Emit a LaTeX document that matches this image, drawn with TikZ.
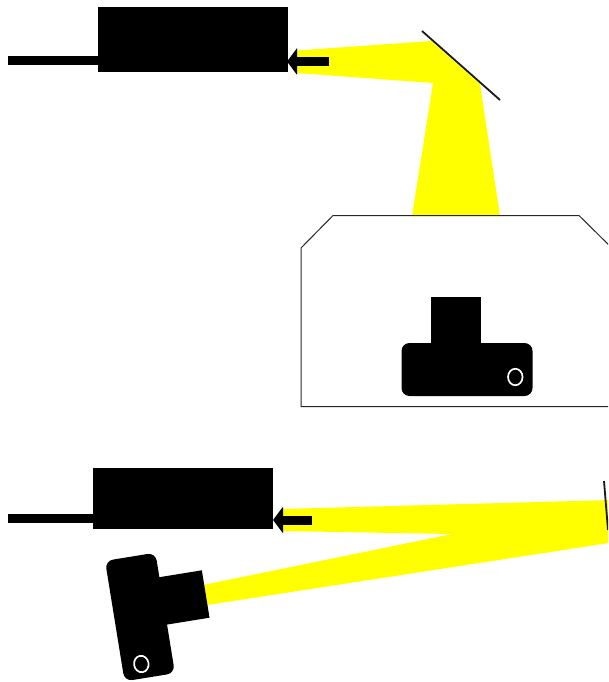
\documentclass[tikz,border=0pt]{standalone}
\usepackage{tikz}
\usetikzlibrary{arrows.meta,shapes.geometric}
\definecolor{beamyellow}{RGB}{255,255,0}

\begin{document}
\begin{tikzpicture}[
    x=1pt, y=-1pt,
    laser/.style={rectangle, fill=black, inner sep=0, outer sep=0, minimum width=#1},
    beam/.style={fill=beamyellow},
    fiber/.style={line width=9pt, color=black},
    inlet/.style={-{Triangle[length=10pt, width=26pt]}, line width=9pt, color=black},
    mirror/.style={line width=1.8pt, color=black!90},
    neck/.style={rectangle, fill=black, inner sep=0, outer sep=0},
    body/.style={rectangle, rounded corners=8pt, fill=black, inner sep=0, outer sep=0},
    lens/.style={ellipse, draw=white, line width=1.7pt, inner sep=0, outer sep=0, minimum width=14.5pt, minimum height=16.5pt}
]
\useasboundingbox (0, 0) rectangle (608, 682);
\clip (0, 0) rectangle (608, 682);

% Top beam path (laser, mirror, down into housing)
\fill[beam] (297, 50.5) -- (431, 41) -- (480, 84) -- (500, 216) -- (412, 216) -- (433, 83) -- (297, 73) -- cycle;
\draw[mirror] (422, 31) -- (500, 100);

% Top laser
\node[laser=190pt, minimum height=65pt] (lasertop) at (193, 39.5) {};
\coordinate (fibertop) at (8, 60.5);
\coordinate (inlettop) at (329, 61.5);
\draw[fiber] (fibertop) -- (lasertop.west |- fibertop);
\draw[inlet] (inlettop) -- ([xshift=-1pt]lasertop.east |- inlettop);

% Housing (right side runs off the page)
\draw[line width=1pt, color=black!85] (620, 406.5) -- (301, 406.5) -- (301, 248) -- (333, 215.5) -- (579, 215.5) -- (620, 256);

% Camera inside housing
\node[neck, minimum width=50pt, minimum height=50pt] (necktop) at (456, 322) {};
\node[body, minimum width=131pt, minimum height=53pt] (bodytop) at (467, 369.5) {};
\node[lens] (lenstop) at (515.3, 377) {};

% Bottom beam path (laser, mirror, back to camera)
\fill[beam] (282, 509) -- (612, 500) -- (612, 542.5) -- (207, 605) -- (203, 585) -- (452, 534) -- (282, 531) -- cycle;
\draw[mirror] (604, 481) -- (608, 530);

% Bottom laser
\node[laser=180pt, minimum height=61pt] (laserbot) at (183, 498.5) {};
\coordinate (fiberbot) at (8, 518.5);
\coordinate (inletbot) at (312, 520);
\draw[fiber] (fiberbot) -- (laserbot.west |- fiberbot);
\draw[inlet] (inletbot) -- (laserbot.east |- inletbot);

% Tilted camera
\node[neck, minimum width=50pt, minimum height=48pt, rotate=9.2] (neckbot) at (181, 598) {};
\node[body, minimum width=51pt, minimum height=122pt, rotate=9.2] (bodybot) at (140, 617) {};
\node[lens, rotate=9.2] (lensbot) at (141.3, 664) {};

\end{tikzpicture}
\end{document}
